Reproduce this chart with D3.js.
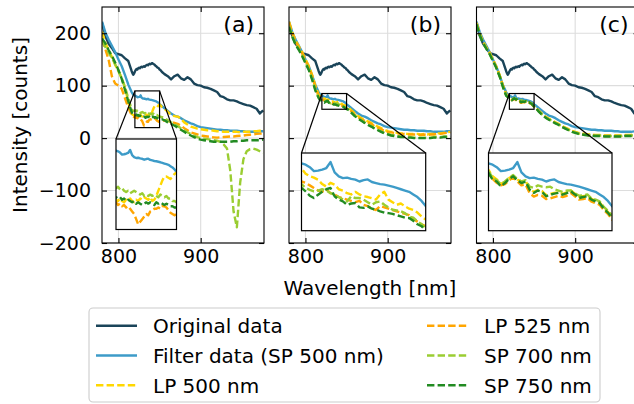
<!DOCTYPE html>
<html>
<head>
<meta charset="utf-8">
<script src="https://cdn.jsdelivr.net/npm/d3@7"></script>
<style>
  body { margin: 0; background: #fff; }
  svg { display: block; font-family: "DejaVu Sans", sans-serif; }
</style>
</head>
<body>
<svg id="chart" width="634" height="404"></svg>
<script>
// wavelength grid (nm): coarse outside, 1 nm inside the zoomed window
const wavelength = [780,784,788,792,796,800,804,808,812,816,
  817,818,819,820,821,822,823,824,825,826,827,828,829,830,831,832,833,834,835,836,837,838,839,840,841,842,843,844,845,846,847,848,849,850,851,852,853,
  856,860,864,868,872,876,880,884,888,892,896,900,904,908,912,916,920,924,928,932,936,940,944,948,952,956,960,964,968,972,976];

// shared by all three panels
const originalData = [220,195,180,172,162,160,158,152,147,128,
  124,121,123,127,130,132,131,133,134,133,135,136,135,136,137,136,138,139,140,139,141,142,141,142,143,142,141,140,138,137,135,134,133,131,130,128,126,
  122,118,112,118,121,114,111,116,112,104,101,100,97,96,94,91,88,80,78,74,72,72,70,67,65,63,62,59,56,47,53];
const filterData = [222,202,188,176,164,150,137,120,102,88,
  85,83,81.5,81,80.5,79.5,78,78.2,78.6,79.2,81.5,77.5,76,75.3,75.5,75,74.7,74,74.5,74.8,73.8,73.4,73,72.8,72.4,72,71.5,71,70.5,70,69,68,66.5,64.5,63,62,61,
  57,52,47,43,41,38,34,31,28,26,23,21,20,19,18,17,16,16,15,15,14,14,14,13,13,12,12,12,12,13,13];

// panel (a)
const lp500A = [203,182,168,155,140,128,114,96,69,47,
  45,44,43,43,42,44,42,41,43,42,44,42,41,43,42,44,43,45,44,43,45,42,43,46,50,54,58,61,61,60,59,61,63,64,62,61,59,
  56,50,44,42,41,37,30,26,22,20,18,17,16,15,15,14,13,13,12,12,12,12,12,11,12,12,12,13,13,14,15];
const lp525A = [188,170,150,118,104,100,94,76,58,44,
  42,41,40,41,39,40,38,39,37,38,36,34,32,28,24,26,28,30,32,31,34,35,36,36,37,36,38,38,37,35,33,32,31,32,32,33,33,
  34,33,31,29,27,24,19,15,11,9,7,5,4,3,2,1.5,1,1.5,2,2.5,3,3,4,4.5,5,6,6.5,7,8,8.5,9];
const sp700A = [184,174,163,153,141,128,114,97,76,55,
  53,52,52,52,53,51,52,50,49,50,48,49,50,49,48,47,48,46,47,46,47,46,47,46,45,47,46,45,46,44,44,42,42,41,41,40,40,
  38,34,30,27,23,19,15,11,8,5,2,0,-1,-2,-3,-4,-5,-7,-12,-20,-62,-140,-170,-85,-40,-25,-21,-20,-22,-25,-28];
const sp750A = [190,181,168,157,144,130,113,92,70,50,
  47,46,45,45,44,45,43,44,42,43,42,41,42,40,41,40,39,40,41,40,41,40,39,41,40,41,40,39,40,39,38,38,37,37,37,36,36,
  34,30,27,24,20,16,12,8,5,2,-1,-3,-4,-5,-6,-7,-7,-7,-7,-7,-7,-6,-6,-5,-5,-4,-4,-4,-4,-4,-3];

// panel (b)
const lp500B = [222,202,186,175,164,150,138,121,100,83,
  81,80,79.5,79,77,76,75.5,74.7,73,72,73.5,72.8,71,70.5,69.5,69,70,69,68.3,68,67.5,67,69,70,67,66,65,65.5,64.4,63.5,63,62,60.5,59.3,58.5,58,57,
  53,47,42,38,35,32,29,25,22,19,16,13,12,11,10,9,9,8,8,8,8,7,8,7,8,8,9,9,10,11,12];
const lp525B = [220,200,184,173,162,148,136,119,98,80,
  77,75.5,74.5,74,73.5,72.5,71.5,70.5,70,71,69.5,69,68,67.5,67,66.5,66,66.5,65,64.5,63.5,63,64.5,64,63.5,63,62.5,62,61.5,61,59.5,58.5,57.5,56.7,56,55.5,55,
  51,45,40,36,33,30,27,23,20,17,14,12,11,10,9,8,8,7,7,7,7,6,7,6,7,7,8,8,9,10,11];
const sp700B = [214,195,180,170,158,145,132,114,93,77,
  75.5,74,73.5,73,71.5,70.8,70.2,70.5,71,70.5,69.5,68.9,68,67,66.3,68.3,67.6,67.6,67,66,65,66,66.3,65,64,63.1,62.8,62.5,61.8,60.5,60,58.6,57.5,56,55.5,55,54,
  49,43,38,34,30,26,23,19,16,13,10,8,6,5,4,3,3,2,2,1,1,1,1,1,1,2,2,2,3,3,4];
const sp750B = [212,193,178,168,156,143,130,112,91,77,
  74,72.5,72,71.5,70.2,68.5,67.6,68.9,70,71,71.5,68.3,67,66.3,65,65.5,65.7,64,63.8,64.4,63.5,63.1,62.5,62,61.8,61.5,61,60.5,60,59.9,58.8,57.5,56.7,55.4,55,54,53,
  48,42,37,33,29,25,22,18,15,12,9,7,5,4,3,2,2,1,1,0,0,0,0,0,0,1,1,1,2,2,3];

// panel (c)
const lp500C = [220,199,184,173,163,150,137,121,101,84,
  81,80,79,78.5,76,74.8,73.2,73.8,75.3,76.2,74.8,73.8,74.2,71.2,70,70.8,70.3,68.7,69.2,69.6,69.8,69.2,69.8,70.5,69.3,68,68.3,68.6,67.3,66.6,66,63.8,62.3,60.2,59,58,57,
  52,46,41,37,34,30,27,23,20,17,14,12,10,9,8,7,7,6,6,6,5,5,5,5,5,5,6,6,6,7,7];
const lp525C = [219,198,183,172,162,149,136,120,100,83,
  80.5,79.5,78.5,77.6,75,73.5,72.5,73,74.5,75.5,74,72.5,72.8,69.5,68.2,68.8,68.5,67.2,67.5,68,68.5,68,68.5,69.5,68.3,67,67.2,67.6,66.2,65.7,65,63,61.5,59.3,58,57,56,
  51,45,40,36,33,29,26,22,19,16,13,11,9,8,7,6,6,5,5,5,4,4,4,4,4,4,5,5,5,6,6];
const sp700C = [218,197,182,171,161,148,135,119,99,82,
  80,79,78.5,78,75.5,74.5,73,74,75.5,76.5,75,74,74.5,72,71.5,72.5,72,71.8,72,71,70.5,70,70.5,70.5,69.5,68.5,68.7,69,67.5,67,66.3,64.2,62.7,61,59.5,58.5,57,
  51,45,40,36,33,29,26,22,19,16,13,11,9,8,7,6,6,5,5,5,4,4,4,4,4,4,5,5,5,6,6];
const sp750C = [217,196,181,170,160,147,134,118,98,81,
  79.5,78.5,77.8,77.3,74.7,74,72.1,73.4,75,76,74.5,73.4,74,70.8,69.6,70.5,70,68.3,68.9,69.3,69.6,68.9,69.5,70.2,69,67.6,68,68.3,67,66.3,65.7,63.5,62,59.9,58.5,57.5,56,
  50,44,39,35,32,28,25,21,18,15,12,10,8,7,6,5,5,4,4,4,3,3,3,3,3,3,4,4,4,5,5];

const seriesNames = ["Original data", "Filter data (SP 500 nm)", "LP 500 nm", "LP 525 nm", "SP 700 nm", "SP 750 nm"];
const seriesColors = ["#1a4459", "#3d9bc8", "#ffd700", "#ffa500", "#9acd32", "#228b22"];
const seriesDashed = [false, false, true, true, true, true];

const xTicks = [800, 900];
const yTicks = [-200, -100, 0, 100, 200];

const panels = [
  { label: "(a)", left: 102, data: [originalData, filterData, lp500A, lp525A, sp700A, sp750A],
    zoomY: [20, 90], inset: { x0: 14, x1: 74.5, y0: 139, y1: 229.5 } },
  { label: "(b)", left: 289, data: [originalData, filterData, lp500B, lp525B, sp700B, sp750B],
    zoomY: [55, 85], inset: { x0: 12.5, x1: 136.7, y0: 153, y1: 230.7 } },
  { label: "(c)", left: 476.5, data: [originalData, filterData, lp500C, lp525C, sp700C, sp750C],
    zoomY: [55, 85], inset: { x0: 12, x1: 135.5, y0: 153, y1: 230.7 } },
];
const zoomX = [820, 850];

const svg = d3.select("#chart");
const panelW = 162, plotTop = 7, plotBottom = 243;
const lineW = 2.4;
const dash = "7.4,3.2";

const x = d3.scaleLinear().domain([780, 977]).range([0, panelW]);
const y = d3.scaleLinear().domain([-200, 250]).range([plotBottom, plotTop]);

panels.forEach((p, pi) => {
  const g = svg.append("g").attr("transform", `translate(${p.left},0)`);

  // clip for main axes
  const clipId = `clip-${pi}`;
  g.append("clipPath").attr("id", clipId)
    .append("rect").attr("x", 0).attr("y", plotTop).attr("width", panelW).attr("height", plotBottom - plotTop);

  // grid
  const grid = g.append("g").attr("stroke", "#dddddd").attr("stroke-width", 1.1);
  xTicks.forEach((t) => {
    grid.append("line").attr("x1", x(t)).attr("x2", x(t)).attr("y1", plotTop).attr("y2", plotBottom);
  });
  yTicks.forEach((t) => {
    grid.append("line").attr("x1", 0).attr("x2", panelW).attr("y1", y(t)).attr("y2", y(t));
  });

  // data lines
  const line = d3.line().x((d, i) => x(wavelength[i])).y((d) => y(d));
  const lines = g.append("g").attr("clip-path", `url(#${clipId})`);
  p.data.forEach((vals, si) => {
    lines.append("path")
      .attr("d", line(vals))
      .attr("fill", "none")
      .attr("stroke", seriesColors[si])
      .attr("stroke-width", lineW)
      .attr("stroke-linejoin", "round")
      .attr("stroke-dasharray", seriesDashed[si] ? dash : null);
  });

  // zoom rectangle and connectors (upper-left to upper-left, upper-right to upper-right)
  const rx0 = x(zoomX[0]), rx1 = x(zoomX[1]);
  const ry0 = y(p.zoomY[1]), ry1 = y(p.zoomY[0]);
  const ins = p.inset;
  g.append("line").attr("x1", rx0).attr("y1", ry0).attr("x2", ins.x0).attr("y2", ins.y0)
    .attr("stroke", "#000").attr("stroke-width", 1.2);
  g.append("line").attr("x1", rx1).attr("y1", ry0).attr("x2", ins.x1).attr("y2", ins.y0)
    .attr("stroke", "#000").attr("stroke-width", 1.2);
  g.append("rect").attr("x", rx0).attr("y", ry0).attr("width", rx1 - rx0).attr("height", ry1 - ry0)
    .attr("fill", "none").attr("stroke", "#000").attr("stroke-width", 1.2);

  // inset axes
  const xi = d3.scaleLinear().domain(zoomX).range([ins.x0, ins.x1]);
  const yi = d3.scaleLinear().domain(p.zoomY).range([ins.y1, ins.y0]);
  const insClip = `inclip-${pi}`;
  g.append("clipPath").attr("id", insClip)
    .append("rect").attr("x", ins.x0).attr("y", ins.y0)
    .attr("width", ins.x1 - ins.x0).attr("height", ins.y1 - ins.y0);
  g.append("rect").attr("x", ins.x0).attr("y", ins.y0)
    .attr("width", ins.x1 - ins.x0).attr("height", ins.y1 - ins.y0).attr("fill", "#fff");
  const lineI = d3.line().x((d, i) => xi(wavelength[i])).y((d) => yi(d));
  const insLines = g.append("g").attr("clip-path", `url(#${insClip})`);
  p.data.forEach((vals, si) => {
    insLines.append("path")
      .attr("d", lineI(vals))
      .attr("fill", "none")
      .attr("stroke", seriesColors[si])
      .attr("stroke-width", lineW)
      .attr("stroke-linejoin", "round")
      .attr("stroke-dasharray", seriesDashed[si] ? dash : null);
  });
  g.append("rect").attr("x", ins.x0).attr("y", ins.y0)
    .attr("width", ins.x1 - ins.x0).attr("height", ins.y1 - ins.y0)
    .attr("fill", "none").attr("stroke", "#000").attr("stroke-width", 1.2);

  // axes with inward ticks
  const leftAx = g.append("g").call(
    d3.axisLeft(y).tickValues(yTicks).tickSize(-5).tickPadding(11)
      .tickFormat(pi === 0 ? (d) => (d < 0 ? "\u2212" + Math.abs(d) : d) : "")
  );
  const rightAx = g.append("g").attr("transform", `translate(${panelW},0)`)
    .call(d3.axisRight(y).tickValues(yTicks).tickSize(-5).tickFormat(""));
  const bottomAx = g.append("g").attr("transform", `translate(0,${plotBottom})`)
    .call(d3.axisBottom(x).tickValues(xTicks).tickSize(-5).tickPadding(6.5).tickFormat(d3.format("d")));
  const topAx = g.append("g").attr("transform", `translate(0,${plotTop})`)
    .call(d3.axisTop(x).tickValues(xTicks).tickSize(-5).tickFormat(""));
  [leftAx, rightAx, bottomAx, topAx].forEach((a) => {
    a.select(".domain").remove();
    a.selectAll(".tick line").attr("stroke", "#000").attr("stroke-width", 1.1);
    a.selectAll("text").attr("font-size", "19px").attr("fill", "#000")
      .attr("font-family", "DejaVu Sans, sans-serif");
  });

  // spines
  g.append("rect").attr("x", 0).attr("y", plotTop).attr("width", panelW).attr("height", plotBottom - plotTop)
    .attr("fill", "none").attr("stroke", "#000").attr("stroke-width", 1.1);

  // panel label
  g.append("text").attr("x", panelW - 10).attr("y", 32).attr("text-anchor", "end")
    .attr("font-size", "22px").text(p.label);
});

// axis titles
svg.append("text").attr("transform", "translate(27,125) rotate(-90)")
  .attr("text-anchor", "middle").attr("font-size", "20px").text("Intensity [counts]");
svg.append("text").attr("x", 370).attr("y", 295)
  .attr("text-anchor", "middle").attr("font-size", "20px").text("Wavelength [nm]");

// legend
const legend = svg.append("g");
legend.append("rect").attr("x", 89).attr("y", 308).attr("width", 511).attr("height", 94)
  .attr("rx", 4).attr("fill", "#fff").attr("fill-opacity", 0.8)
  .attr("stroke", "#cccccc").attr("stroke-width", 1.1);
const rowY = [325.7, 355.5, 385.3];
const colX = [96, 427];
seriesNames.forEach((name, i) => {
  const col = Math.floor(i / 3), row = i % 3;
  const lx = colX[col];
  legend.append("line").attr("x1", lx).attr("x2", lx + 41).attr("y1", rowY[row]).attr("y2", rowY[row])
    .attr("stroke", seriesColors[i]).attr("stroke-width", lineW)
    .attr("stroke-dasharray", seriesDashed[i] ? dash : null);
  legend.append("text").attr("x", lx + 57).attr("y", rowY[row]).attr("dy", "0.36em")
    .attr("font-size", "20px").text(name);
});
</script>
</body>
</html>
